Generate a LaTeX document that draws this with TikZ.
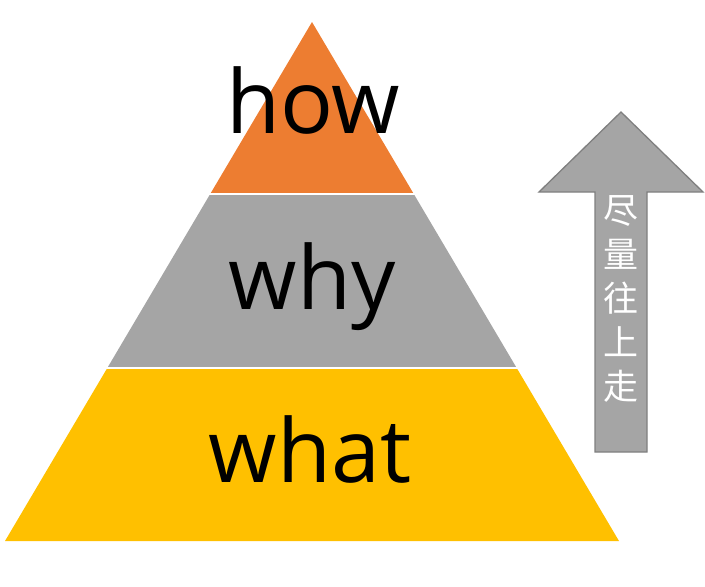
\documentclass[tikz,border=0pt]{standalone}
\usepackage{fontspec}
\setmainfont{Open Sans}
\newfontfamily\cjk{Noto Sans CJK SC}
\definecolor{orng}{HTML}{ED7D31}
\definecolor{gry}{HTML}{A5A5A5}
\definecolor{ylw}{HTML}{FFC000}
\definecolor{edgegry}{HTML}{7F7F7F}
\begin{document}
\begin{tikzpicture}[x=1pt,y=-1pt,
  word/.style={anchor=base,inner sep=0pt,font=\fontsize{88}{88}\selectfont,text=black},
  sep/.style={draw=white,line width=2.5pt}]
\useasboundingbox (0,0) rectangle (705,587);
% pyramid layers
\fill[orng] (312,22) -- (413.8,194) -- (210.2,194) -- cycle;
\fill[gry] (210.2,194) -- (413.8,194) -- (516.7,368) -- (107.3,368) -- cycle;
\fill[ylw] (107.3,368) -- (516.7,368) -- (619,541) -- (5,541) -- cycle;
\draw[sep] (190,194) -- (440,194);
\draw[sep] (90,368) -- (540,368);
% labels
\node[word] (how) at (313,133) {how};
\node[word] (why) at (312,309) {why};
\node[word] (what) at (310,482) {what};
% arrow
\draw[fill=gry,draw=edgegry,line width=1.3pt,line join=miter]
  (595,452) -- (595,192) -- (539,192) -- (621,112) -- (703,192) -- (647,192) -- (647,452) -- cycle;
\node[align=center,text=white,inner sep=0pt,font=\cjk\fontsize{35}{44}\selectfont] (up) at (621,299) {尽\\量\\往\\上\\走};
\end{tikzpicture}
\end{document}
